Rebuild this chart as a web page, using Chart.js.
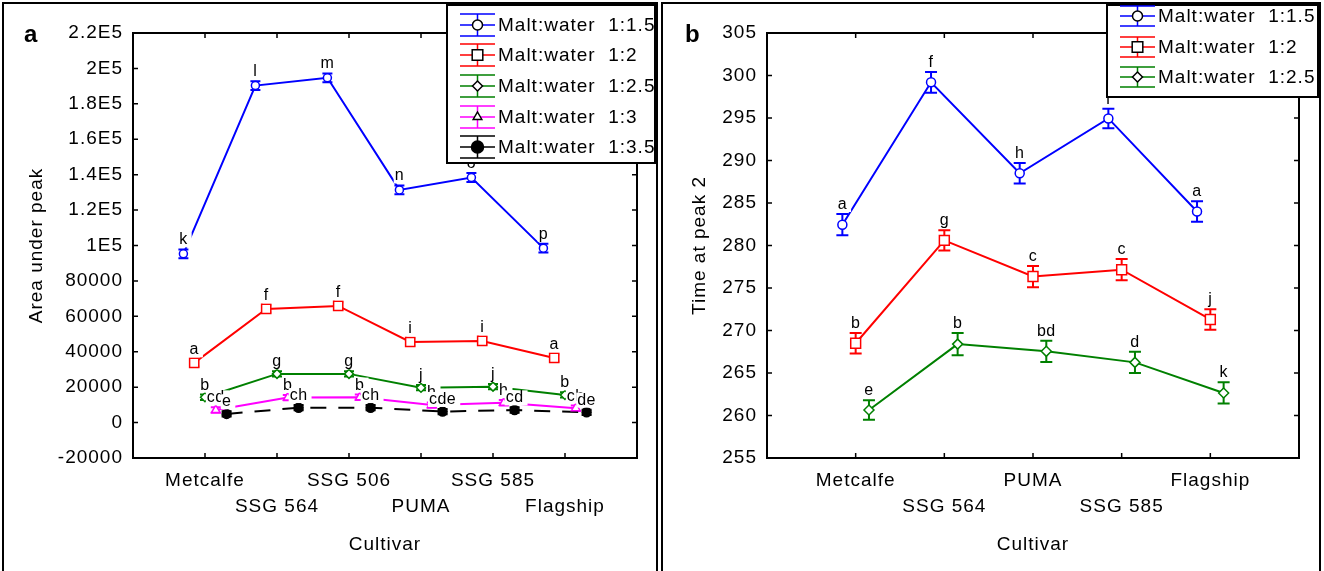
<!DOCTYPE html>
<html><head><meta charset="utf-8">
<script src="https://cdn.jsdelivr.net/npm/chart.js@4.4.0/dist/chart.umd.min.js"></script>
<style>
html,body{margin:0;padding:0;background:#fff;}
#wrap{position:relative;width:1324px;height:571px;overflow:hidden;background:#fff;}
#a{position:absolute;left:0;top:0;}
#b{position:absolute;left:660px;top:0;}
</style></head><body>
<div id="wrap"><canvas id="a" width="660" height="571"></canvas><canvas id="b" width="664" height="571"></canvas></div>
<script>
// ---------- Panel a data ----------
const categoriesA = ['Metcalfe', 'SSG 564', 'SSG 506', 'PUMA', 'SSG 585', 'Flagship'];
const seriesNamesA = ['Malt:water  1:1.5', 'Malt:water  1:2', 'Malt:water  1:2.5', 'Malt:water  1:3', 'Malt:water  1:3.5'];
const area_1_1_5 = [95300, 190300, 194700, 131400, 138400, 98500];
const area_1_2 = [33700, 64200, 65900, 45500, 46100, 36500];
const area_1_2_5 = [14300, 27500, 27500, 19700, 20300, 15600];
const area_1_3 = [7100, 14100, 14300, 9900, 11200, 8100];
const area_1_3_5 = [4900, 8400, 8400, 6200, 7100, 5800];
const areaErr_1_1_5 = [2500, 2500, 2500, 2500, 2500, 2500];
const areaErr_1_2 = [2000, 2000, 2000, 2000, 2000, 2000];
const areaErr_1_2_5 = [1500, 1500, 1500, 1500, 1500, 1500];
const areaErr_1_3 = [1500, 1500, 1500, 1500, 1500, 1500];
const areaErr_1_3_5 = [1500, 1500, 1500, 1500, 1500, 1500];
const letters_A_1_1_5 = ['k', 'l', 'm', 'n', 'o', 'p'];
const letters_A_1_2 = ['a', 'f', 'f', 'i', 'i', 'a'];
const letters_A_1_2_5 = ['b', 'g', 'g', 'j', 'j', 'b'];
const letters_A_1_3 = ['cd', 'b', 'b', 'h', 'h', 'ch'];
const letters_A_1_3_5 = ['e', 'ch', 'ch', 'cde', 'cd', 'de'];
const yTicksA = [-20000, 0, 20000, 40000, 60000, 80000, 100000, 120000, 140000, 160000, 180000, 200000, 220000];
const yTickLabelsA = ['-20000', '0', '20000', '40000', '60000', '80000', '1E5', '1.2E5', '1.4E5', '1.6E5', '1.8E5', '2E5', '2.2E5'];

// ---------- Panel b data ----------
const categoriesB = ['Metcalfe', 'SSG 564', 'PUMA', 'SSG 585', 'Flagship'];
const seriesNamesB = ['Malt:water  1:1.5', 'Malt:water  1:2', 'Malt:water  1:2.5'];
const time_1_1_5 = [282.45, 299.2, 288.5, 294.95, 284.0];
const time_1_2 = [268.5, 280.6, 276.35, 277.15, 271.3];
const time_1_2_5 = [260.65, 268.4, 267.55, 266.25, 262.65];
const timeErr_1_1_5 = [1.25, 1.22, 1.2, 1.15, 1.2];
const timeErr_1_2 = [1.2, 1.2, 1.25, 1.25, 1.2];
const timeErr_1_2_5 = [1.15, 1.3, 1.25, 1.25, 1.25];
const letters_B_1_1_5 = ['a', 'f', 'h', 'i', 'a'];
const letters_B_1_2 = ['b', 'g', 'c', 'c', 'j'];
const letters_B_1_2_5 = ['e', 'b', 'bd', 'd', 'k'];
const yTicksB = [255, 260, 265, 270, 275, 280, 285, 290, 295, 300, 305];
const yTickLabelsB = ['255', '260', '265', '270', '275', '280', '285', '290', '295', '300', '305'];

// ---------- styles ----------
const FONT = '"Liberation Sans", Arial, Helvetica, sans-serif';
const BLUE = '#0000ff', RED = '#ff0000', GREEN = '#008000', MAGENTA = '#ff00ff', BLACK = '#000000';

function drawMarker(ctx, style, x, y, r, fill, stroke, lw) {
  ctx.save();
  ctx.fillStyle = fill; ctx.strokeStyle = stroke; ctx.lineWidth = lw;
  ctx.beginPath();
  if (style === 'circle') { ctx.arc(x, y, r, 0, Math.PI * 2); }
  else if (style === 'rect') { const s = r * Math.SQRT1_2; ctx.rect(x - s, y - s, 2 * s, 2 * s); }
  else if (style === 'rectRot') { ctx.moveTo(x, y - r); ctx.lineTo(x + r, y); ctx.lineTo(x, y + r); ctx.lineTo(x - r, y); ctx.closePath(); }
  else if (style === 'triangle') {
    ctx.moveTo(x, y - r); ctx.lineTo(x + r * 0.866, y + r * 0.5); ctx.lineTo(x - r * 0.866, y + r * 0.5); ctx.closePath();
  }
  ctx.fill(); ctx.stroke();
  ctx.restore();
}

function makePanel(canvasId, P) {
  const datasets = P.series.map(s => ({
    label: s.name,
    data: s.values.map((v, i) => ({ x: i + s.off, y: v })),
    borderColor: s.color,
    borderWidth: 2,
    borderDash: s.dash || [],
    pointStyle: s.style,
    pointRadius: s.r,
    pointBackgroundColor: s.fill,
    pointBorderColor: s.color,
    pointBorderWidth: 1.5,
    tension: 0,
    fill: false
  }));

  const plugin = {
    id: 'deco',
    beforeDraw(chart) { chart.ctx.letterSpacing = '1px'; },
    beforeDatasetsDraw(chart) {
      const { ctx, scales: { x, y } } = chart;
      ctx.save();
      P.series.forEach(s => {
        ctx.strokeStyle = s.color; ctx.lineWidth = 2;
        s.values.forEach((v, i) => {
          const px = x.getPixelForValue(i + s.off);
          const y1 = y.getPixelForValue(v + s.err[i]);
          const y2 = y.getPixelForValue(v - s.err[i]);
          ctx.beginPath();
          ctx.moveTo(px, y1); ctx.lineTo(px, y2);
          ctx.moveTo(px - P.cap, y1); ctx.lineTo(px + P.cap, y1);
          ctx.moveTo(px - P.cap, y2); ctx.lineTo(px + P.cap, y2);
          ctx.stroke();
        });
      });
      ctx.restore();
    },
    afterDraw(chart) {
      const { ctx, chartArea: ca, scales: { x, y } } = chart;
      ctx.save();
      ctx.letterSpacing = '0.5px';
      // letters
      ctx.font = '16px ' + FONT;
      ctx.textAlign = 'center'; ctx.textBaseline = 'alphabetic';
      P.series.forEach(s => {
        s.values.forEach((v, i) => {
          const px = x.getPixelForValue(i + s.off);
          const py = y.getPixelForValue(v + s.err[i]) - 5;
          const t = s.letters[i];
          const w = ctx.measureText(t).width;
          ctx.fillStyle = '#fff';
          ctx.fillRect(px - w / 2 - 1, py - 12, w + 5, 15);
          ctx.fillStyle = '#000';
          ctx.fillText(t, px, py);
        });
      });
      // frame
      ctx.strokeStyle = '#000'; ctx.lineWidth = 2;
      ctx.strokeRect(ca.left, ca.top, ca.right - ca.left, ca.bottom - ca.top);
      ctx.lineWidth = 1.5;
      ctx.beginPath();
      y.ticks.forEach(t => {
        const py = y.getPixelForValue(t.value);
        ctx.moveTo(ca.left, py); ctx.lineTo(ca.left + 5, py);
        ctx.moveTo(ca.right, py); ctx.lineTo(ca.right - 5, py);
      });
      x.ticks.forEach(t => {
        const px = x.getPixelForValue(t.value);
        ctx.moveTo(px, ca.bottom); ctx.lineTo(px, ca.bottom - 5);
        ctx.moveTo(px, ca.top); ctx.lineTo(px, ca.top + 5);
      });
      ctx.stroke();
      // titles
      ctx.letterSpacing = '1px';
      ctx.fillStyle = '#000';
      ctx.font = '19px ' + FONT;
      ctx.textAlign = 'center'; ctx.textBaseline = 'middle';
      ctx.fillText('Cultivar', (ca.left + ca.right) / 2, 545);
      ctx.save();
      ctx.translate(P.yTitleX, (ca.top + ca.bottom) / 2);
      ctx.rotate(-Math.PI / 2);
      ctx.fillText(P.yTitle, 0, 0);
      ctx.restore();
      ctx.font = 'bold 24px ' + FONT;
      ctx.textAlign = 'left'; ctx.textBaseline = 'alphabetic';
      ctx.letterSpacing = '0px';
      ctx.fillText(P.letter, P.letterX, 42);
      // legend
      const L = P.legend;
      ctx.fillStyle = '#fff';
      ctx.fillRect(L.x0, L.y0, L.x1 - L.x0, L.y1 - L.y0);
      ctx.strokeStyle = '#000'; ctx.lineWidth = 2;
      ctx.strokeRect(L.x0, L.y0, L.x1 - L.x0, L.y1 - L.y0);
      ctx.font = '19px ' + FONT; ctx.letterSpacing = '1px';
      ctx.textAlign = 'left'; ctx.textBaseline = 'middle';
      P.series.forEach((s, k) => {
        const cy = L.rows[k];
        ctx.strokeStyle = s.color;
        ctx.lineWidth = 1.5;
        ctx.beginPath();
        ctx.moveTo(L.sx0, cy); ctx.lineTo(L.sx1, cy);
        ctx.moveTo(L.sx0, cy - L.capH); ctx.lineTo(L.sx1, cy - L.capH);
        ctx.moveTo(L.sx0, cy + L.capH); ctx.lineTo(L.sx1, cy + L.capH);
        const mx = (L.sx0 + L.sx1) / 2;
        ctx.moveTo(mx, cy - L.capH); ctx.lineTo(mx, cy + L.capH);
        ctx.stroke();
        const mfill = s.fill === '#000' ? '#000' : '#fff';
        drawMarker(ctx, s.style, mx, cy, s.style === 'rect' ? 7.5 : (s.fill === '#000' ? 6 : 5), mfill, '#000', 1.5);
        ctx.fillStyle = '#000';
        ctx.fillText(s.name, L.tx, cy + 1);
      });
      // panel border
      ctx.strokeStyle = '#000'; ctx.lineWidth = 2;
      ctx.strokeRect(P.border[0], P.border[1], P.border[2], P.border[3]);
      ctx.restore();
    }
  };

  return new Chart(document.getElementById(canvasId), {
    type: 'line',
    data: { datasets },
    plugins: [plugin],
    options: {
      responsive: false,
      animation: false,
      layout: { padding: { left: 0, right: P.padRight, top: 33, bottom: 0 } },
      plugins: { legend: { display: false }, tooltip: { enabled: false } },
      scales: {
        x: {
          type: 'linear',
          min: -1, max: P.categories.length,
          grid: { display: false, drawTicks: false },
          border: { display: false },
          afterBuildTicks: s => { s.ticks = P.categories.map((c, i) => ({ value: i })); },
          afterFit: s => { s.height = 113; },
          ticks: {
            autoSkip: false, maxRotation: 0, minRotation: 0, padding: 10, color: '#000',
            font: { family: FONT, size: 19, lineHeight: 26 / 19 },
            callback: (v, i) => (i % 2 === 0 ? [P.categories[i], ''] : ['', P.categories[i]])
          }
        },
        y: {
          type: 'linear',
          min: P.yTicks[0], max: P.yTicks[P.yTicks.length - 1],
          grid: { display: false, drawTicks: false },
          border: { display: false },
          afterBuildTicks: s => { s.ticks = P.yTicks.map(v => ({ value: v })); },
          afterFit: s => { s.width = P.yWidth; },
          ticks: {
            padding: 10, color: '#000',
            font: { family: FONT, size: 19 },
            callback: (v, i) => P.yTickLabels[i]
          }
        }
      }
    }
  });
}

makePanel('a', {
  categories: categoriesA,
  yTicks: yTicksA, yTickLabels: yTickLabelsA,
  yWidth: 133, padRight: 23, cap: 5,
  yTitle: 'Area under peak', yTitleX: 37, letter: 'a', letterX: 24,
  border: [3, 3, 654, 600],
  legend: { x0: 447, y0: 5, x1: 655, y1: 163, rows: [25, 55, 86, 117, 147], capH: 11, sx0: 460, sx1: 495, tx: 498 },
  series: [
    { name: seriesNamesA[0], values: area_1_1_5, err: areaErr_1_1_5, letters: letters_A_1_1_5, color: BLUE, style: 'circle', fill: '#fff', r: 4, off: -0.3 },
    { name: seriesNamesA[1], values: area_1_2, err: areaErr_1_2, letters: letters_A_1_2, color: RED, style: 'rect', fill: '#fff', r: 6.5, off: -0.15 },
    { name: seriesNamesA[2], values: area_1_2_5, err: areaErr_1_2_5, letters: letters_A_1_2_5, color: GREEN, style: 'rectRot', fill: '#fff', r: 4.5, off: 0 },
    { name: seriesNamesA[3], values: area_1_3, err: areaErr_1_3, letters: letters_A_1_3, color: MAGENTA, style: 'triangle', fill: '#fff', r: 5, off: 0.15 },
    { name: seriesNamesA[4], values: area_1_3_5, err: areaErr_1_3_5, letters: letters_A_1_3_5, color: BLACK, style: 'circle', fill: '#000', r: 4.5, off: 0.3, dash: [16, 12] }
  ]
});

makePanel('b', {
  categories: categoriesB,
  yTicks: yTicksB, yTickLabels: yTickLabelsB,
  yWidth: 107, padRight: 25, cap: 6,
  yTitle: 'Time at peak 2', yTitleX: 40, letter: 'b', letterX: 25,
  border: [2, 3, 658, 600],
  legend: { x0: 447, y0: 5, x1: 658, y1: 97, rows: [16, 47, 77], capH: 10, sx0: 460, sx1: 495, tx: 498 },
  series: [
    { name: seriesNamesB[0], values: time_1_1_5, err: timeErr_1_1_5, letters: letters_B_1_1_5, color: BLUE, style: 'circle', fill: '#fff', r: 4.5, off: -0.15 },
    { name: seriesNamesB[1], values: time_1_2, err: timeErr_1_2, letters: letters_B_1_2, color: RED, style: 'rect', fill: '#fff', r: 7, off: 0 },
    { name: seriesNamesB[2], values: time_1_2_5, err: timeErr_1_2_5, letters: letters_B_1_2_5, color: GREEN, style: 'rectRot', fill: '#fff', r: 5, off: 0.15 }
  ]
});
</script>
</body></html>
